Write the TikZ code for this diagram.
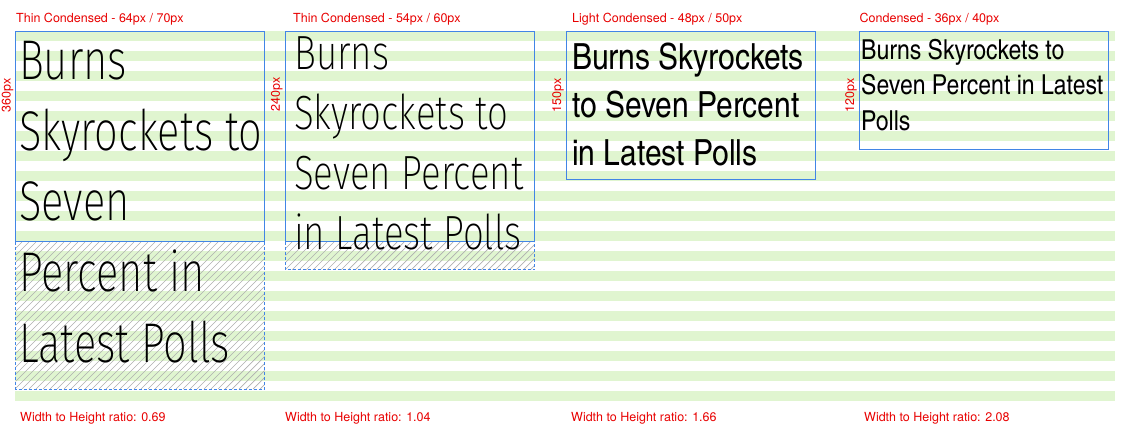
\documentclass[tikz,border=0pt]{standalone}
\usepackage{fontspec}
\setmainfont{TeX Gyre Heros}
\IfFontExistsTF{Fira Sans ExtraLight}{%
  \newfontfamily\thinfonta[FakeStretch=0.745]{Fira Sans ExtraLight}%
  \newfontfamily\thinfontb[FakeStretch=0.765]{Fira Sans ExtraLight}}{%
  \IfFontExistsTF{Fira Sans Light}{%
    \newfontfamily\thinfonta[FakeStretch=0.745]{Fira Sans Light}%
    \newfontfamily\thinfontb[FakeStretch=0.765]{Fira Sans Light}}{%
    \newfontfamily\thinfonta[FakeStretch=0.77]{Liberation Sans}%
    \newfontfamily\thinfontb[FakeStretch=0.79]{Liberation Sans}}}
\IfFontExistsTF{texgyreheroscn-regular.otf}{%
  \newfontfamily\cnfontc[FakeStretch=1.015]{texgyreheroscn-regular.otf}%
  \newfontfamily\cnfontd[FakeStretch=1.02]{texgyreheroscn-regular.otf}}{%
  \newfontfamily\cnfontc[FakeStretch=0.82]{TeX Gyre Heros}%
  \newfontfamily\cnfontd[FakeStretch=0.84]{TeX Gyre Heros}}
\definecolor{stripe}{RGB}{224,245,208}
\definecolor{boxblue}{RGB}{66,133,230}
\definecolor{labred}{RGB}{232,0,0}
\definecolor{hatchgray}{RGB}{175,175,175}
\begin{document}
\begin{tikzpicture}[x=1pt,y=-1pt,
  lab/.style={anchor=base west,inner sep=0,text=labred,font=\fontsize{12.5}{14}\selectfont},
  vlab/.style={inner sep=0,text=labred,rotate=90,font=\fontsize{12.5}{14}\selectfont},
  frame/.style={draw=boxblue,line width=1pt},
  overflow/.style={draw=boxblue,line width=1pt,dash pattern=on 3pt off 2pt},
  hatch/.style={draw=hatchgray,line width=0.7pt},
  ta/.style={anchor=base west,inner sep=0,font=\thinfonta\fontsize{56}{60}\selectfont},
  tb/.style={anchor=base west,inner sep=0,font=\thinfontb\fontsize{48}{50}\selectfont},
  tc/.style={anchor=base west,inner sep=0,font=\cnfontc\fontsize{36}{40}\selectfont},
  td/.style={anchor=base west,inner sep=0,font=\cnfontd\fontsize{27.5}{30}\selectfont}]
\useasboundingbox (0,0) rectangle (1129,438);
% stripes
\foreach \k in {1,...,19}{
  \fill[stripe] (15,11+20*\k) rectangle (1115,21+20*\k);
}
% hatching
\begin{scope}
  \clip (15.5,242) rectangle (264.5,389);
  \foreach \c in {-154,-147,...,260}{
    \draw[hatch] (15+\c,389) -- (15+\c+147,242);
  }
\end{scope}
\begin{scope}
  \clip (285.5,242) rectangle (534.5,270);
  \foreach \c in {-35,-28,...,260}{
    \draw[hatch] (285+\c,270) -- (285+\c+28,242);
  }
\end{scope}
% boxes
\draw[frame] (15.5,32) rectangle (264.5,242);
\draw[overflow] (15.5,242) -- (15.5,389) -- (264.5,389) -- (264.5,242);
\draw[frame] (285.5,32) rectangle (534.5,242);
\draw[overflow] (285.5,242) -- (285.5,270) -- (534.5,270) -- (534.5,242);
\draw[frame] (566.5,32) rectangle (815.5,180);
\draw[frame] (859.5,32) rectangle (1108.5,150);
% top labels
\node[lab] (h1) at (16,23) {Thin Condensed - 64px / 70px};
\node[lab] (h2) at (293,23) {Thin Condensed - 54px / 60px};
\node[lab] (h3) at (572,23) {Light Condensed - 48px / 50px};
\node[lab] (h4) at (859.5,23) {Condensed - 36px / 40px};
% side labels
\node[vlab] (s1) at (7.5,95) {360px};
\node[vlab] (s2) at (276.7,94) {240px};
\node[vlab] (s3) at (558,95) {150px};
\node[vlab] (s4) at (851,95) {120px};
% bottom labels
\node[lab] (r1) at (20,421.5) {Width to Height ratio: 0.69};
\node[lab] (r2) at (285,421.5) {Width to Height ratio: 1.04};
\node[lab] (r3) at (571,421.5) {Width to Height ratio: 1.66};
\node[lab] (r4) at (864,421.5) {Width to Height ratio: 2.08};
% box 1 text
\node[ta] (a1) at (19,80) {Burns};
\node[ta] (a2) at (19,150.5) {Skyrockets to};
\node[ta] (a3) at (19,221) {Seven};
\node[ta] (a4) at (19,291.5) {Percent in};
\node[ta] (a5) at (19,362) {Latest Polls};
% box 2 text
\node[tb] (b1) at (294,70) {Burns};
\node[tb] (b2) at (294,130) {Skyrockets to};
\node[tb] (b3) at (294,190) {Seven Percent};
\node[tb] (b4) at (294,250) {in Latest Polls};
% box 3 text
\node[tc] (c1) at (572,69.3) {Burns Skyrockets};
\node[tc] (c2) at (572,117.5) {to Seven Percent};
\node[tc] (c3) at (572,165.7) {in Latest Polls};
% box 4 text
\node[td] (d1) at (861,59.3) {Burns Skyrockets to};
\node[td] (d2) at (861,95) {Seven Percent in Latest};
\node[td] (d3) at (861,130.3) {Polls};
\end{tikzpicture}
\end{document}
